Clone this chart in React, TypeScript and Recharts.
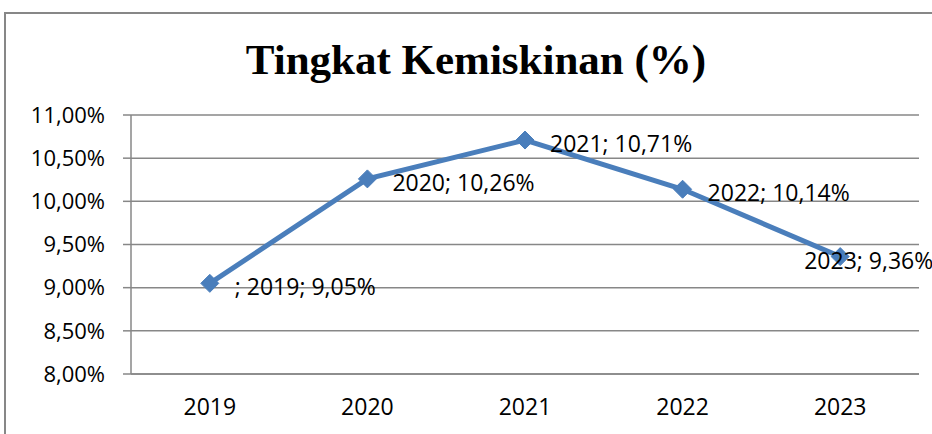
import React from 'react';
import { LineChart, Line, XAxis, YAxis, CartesianGrid, LabelList } from 'recharts';

const years = ['2019', '2020', '2021', '2022', '2023'];
const rates = [9.05, 10.26, 10.71, 10.14, 9.36];
const pointLabels = ['; 2019; 9,05%', '2020; 10,26%', '2021; 10,71%', '2022; 10,14%', '2023; 9,36%'];
const yTicks = [8, 8.5, 9, 9.5, 10, 10.5, 11];
const xBoundaries = [0, 1, 2, 3, 4, 5];
const title = 'Tingkat Kemiskinan (%)';

const data = years.map((y, i) => ({ year: y, rate: rates[i], label: pointLabels[i] }));

const GRAY = '#878787';
const BLUE = '#4A7EBB';
const FONT = 'Open Sans';

const fmt = (v: number) => v.toFixed(2).replace('.', ',') + '%';

const Diamond = (props: any) => {
  const { cx, cy } = props;
  if (cx == null || cy == null) return null;
  const r = 9;
  return (
    <polygon
      points={`${cx},${cy - r} ${cx + r},${cy} ${cx},${cy + r} ${cx - r},${cy}`}
      fill={BLUE}
      stroke={BLUE}
    />
  );
};

const PointLabel = (props: any) => {
  const { x, y, value, index } = props;
  const last = index === data.length - 1;
  return (
    <text
      x={x + (last ? -36 : 25)}
      y={y + 3}
      dominantBaseline="central"
      fontFamily={FONT}
      fontSize={23}
      fill="#000"
    >
      {value}
    </text>
  );
};

export default function App() {
  return (
    <div style={{ position: 'absolute', left: 0, top: 0, width: 932, height: 434, overflow: 'hidden', background: '#fff' }}>
      <div style={{ position: 'absolute', left: 4, top: 12, width: 1000, height: 1000, border: `2px solid ${GRAY}` }} />
      <div
        style={{
          position: 'absolute',
          left: 0,
          top: 34,
          width: 952,
          textAlign: 'center',
          fontFamily: 'Liberation Serif',
          fontWeight: 'bold',
          fontSize: 43,
          lineHeight: '52px',
          color: '#000',
        }}
      >
        {title}
      </div>
      <div style={{ position: 'absolute', left: 0, top: 0 }}>
        <LineChart width={932} height={434} data={data} margin={{ top: 115, right: 13, bottom: 0, left: 0 }}>
          <CartesianGrid vertical={false} stroke={GRAY} strokeWidth={1.5} />
          <XAxis
            xAxisId="b"
            type="number"
            domain={[0, 5]}
            ticks={xBoundaries}
            tickFormatter={() => ''}
            tickSize={8}
            axisLine={false}
            tickLine={{ stroke: GRAY, strokeWidth: 1.5 }}
            height={0}
            allowDataOverflow
          />
          <XAxis
            dataKey="year"
            scale="band"
            type="category"
            height={60}
            tickLine={false}
            axisLine={{ stroke: GRAY, strokeWidth: 1.5 }}
            tickMargin={19}
            tick={{ fontFamily: FONT, fontSize: 23, fill: '#000' }}
          />
          <YAxis
            width={131}
            domain={[8, 11]}
            ticks={yTicks}
            tickFormatter={fmt}
            tickSize={8}
            tickMargin={18}
            axisLine={{ stroke: GRAY, strokeWidth: 1.5 }}
            tickLine={{ stroke: GRAY, strokeWidth: 1.5 }}
            tick={{ fontFamily: FONT, fontSize: 22, fill: '#000' }}
            allowDataOverflow
          />
          <Line
            dataKey="rate"
            stroke={BLUE}
            strokeWidth={5}
            dot={<Diamond />}
            activeDot={false}
            isAnimationActive={false}
          >
            <LabelList dataKey="label" content={<PointLabel />} />
          </Line>
        </LineChart>
      </div>
    </div>
  );
}
